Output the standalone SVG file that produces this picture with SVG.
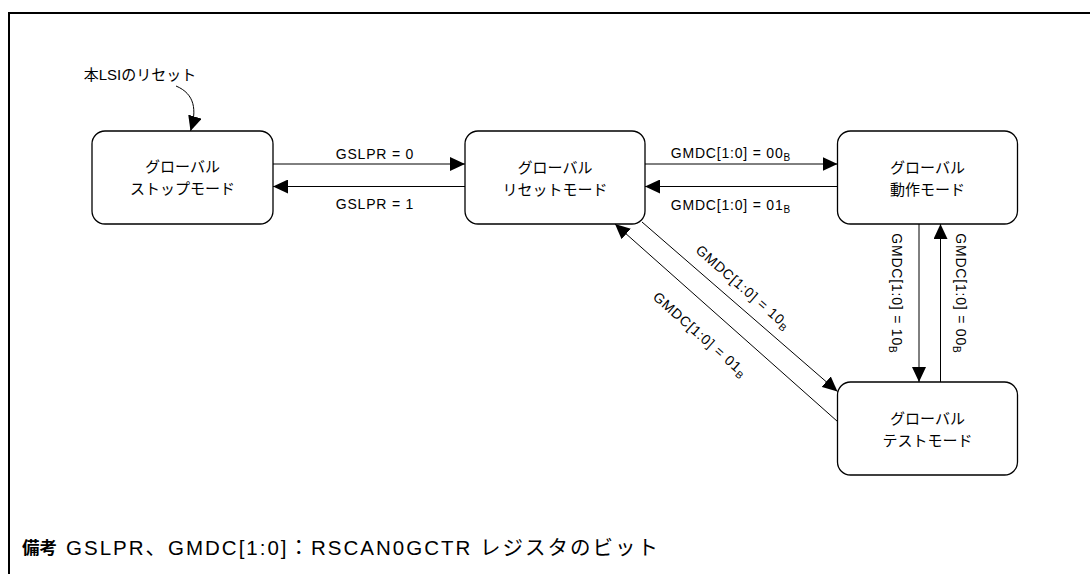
<svg xmlns="http://www.w3.org/2000/svg" width="1090" height="574" viewBox="0 0 1090 574">
<style>
.box{fill:#fff;stroke:#000;stroke-width:1.3}
.ln{fill:none;stroke:#000;stroke-width:1}
.jp{font-family:"Liberation Sans","Noto Sans CJK JP",sans-serif;font-size:15px;fill:#000;text-anchor:middle}
.lb{font-family:"Liberation Sans","Noto Sans CJK JP",sans-serif;font-size:14px;letter-spacing:0.8px;fill:#000;text-anchor:middle}
.sub{font-size:10px;letter-spacing:0}
.note{font-family:"Liberation Sans","Noto Sans CJK JP",sans-serif;fill:#000}
</style>
<defs>
<marker id="ah" markerUnits="userSpaceOnUse" markerWidth="16" markerHeight="14" refX="15" refY="7" orient="auto">
<path d="M0,0 L15,7 L0,14 Z" fill="#000"/>
</marker>
</defs>
<rect width="1090" height="574" fill="#fff"/>
<path d="M9,574 V13 H1090" fill="none" stroke="#000" stroke-width="2"/>

<g id="node-stop">
<rect class="box" x="92" y="131" width="181" height="93" rx="13"/>
<text class="jp" x="182.5" y="172">グローバル</text>
<text class="jp" x="182.5" y="194">ストップモード</text>
</g>
<g id="node-reset">
<rect class="box" x="465" y="131" width="180" height="93" rx="13"/>
<text class="jp" x="555" y="173">グローバル</text>
<text class="jp" x="555" y="195">リセットモード</text>
</g>
<g id="node-op">
<rect class="box" x="837.5" y="131" width="180" height="93" rx="13"/>
<text class="jp" x="927.5" y="173">グローバル</text>
<text class="jp" x="927.5" y="195">動作モード</text>
</g>
<g id="node-test">
<rect class="box" x="837.5" y="382" width="180" height="93" rx="13"/>
<text class="jp" x="927.5" y="424">グローバル</text>
<text class="jp" x="927.5" y="446">テストモード</text>
</g>

<g id="connectors">
<path class="ln" d="M176,86 C195,94 197,110 190.5,131" marker-end="url(#ah)"/>
<line class="ln" x1="273" y1="164" x2="465" y2="164" marker-end="url(#ah)"/>
<line class="ln" x1="465" y1="186.5" x2="273" y2="186.5" marker-end="url(#ah)"/>
<line class="ln" x1="645" y1="164" x2="837.5" y2="164" marker-end="url(#ah)"/>
<line class="ln" x1="837.5" y1="186.5" x2="645" y2="186.5" marker-end="url(#ah)"/>
<line class="ln" x1="919" y1="224" x2="919" y2="382" marker-end="url(#ah)"/>
<line class="ln" x1="940.5" y1="382" x2="940.5" y2="224" marker-end="url(#ah)"/>
<line class="ln" x1="642" y1="222" x2="837.5" y2="391.5" marker-end="url(#ah)"/>
<line class="ln" x1="837.5" y1="421.5" x2="615" y2="224" marker-end="url(#ah)"/>
</g>

<g id="labels">
<text class="jp" x="140" y="80">本LSIのリセット</text>
<text class="lb" x="375" y="159">GSLPR = 0</text>
<text class="lb" x="375" y="208.5">GSLPR = 1</text>
<text class="lb" x="730.5" y="157.5">GMDC[1:0] = 00<tspan class="sub" dy="3">B</tspan></text>
<text class="lb" x="730.5" y="210">GMDC[1:0] = 01<tspan class="sub" dy="3">B</tspan></text>
<text class="lb" transform="translate(897,293) rotate(90)" x="0" y="5">GMDC[1:0] = 10<tspan class="sub" dy="3">B</tspan></text>
<text class="lb" transform="translate(961,293) rotate(90)" x="0" y="5">GMDC[1:0] = 00<tspan class="sub" dy="3">B</tspan></text>
<text class="lb" transform="translate(743,287) rotate(41)" x="0" y="5">GMDC[1:0] = 10<tspan class="sub" dy="3">B</tspan></text>
<text class="lb" transform="translate(700,334) rotate(41.5)" x="0" y="5">GMDC[1:0] = 01<tspan class="sub" dy="3">B</tspan></text>
</g>

<g id="note">
<text class="note" x="22" y="554" font-size="17.5" font-weight="bold">備考</text>
<text class="note" x="66" y="554.5" font-size="20.5" textLength="592" lengthAdjust="spacing">GSLPR、GMDC[1:0]：RSCAN0GCTR レジスタのビット</text>
</g>
</svg>
